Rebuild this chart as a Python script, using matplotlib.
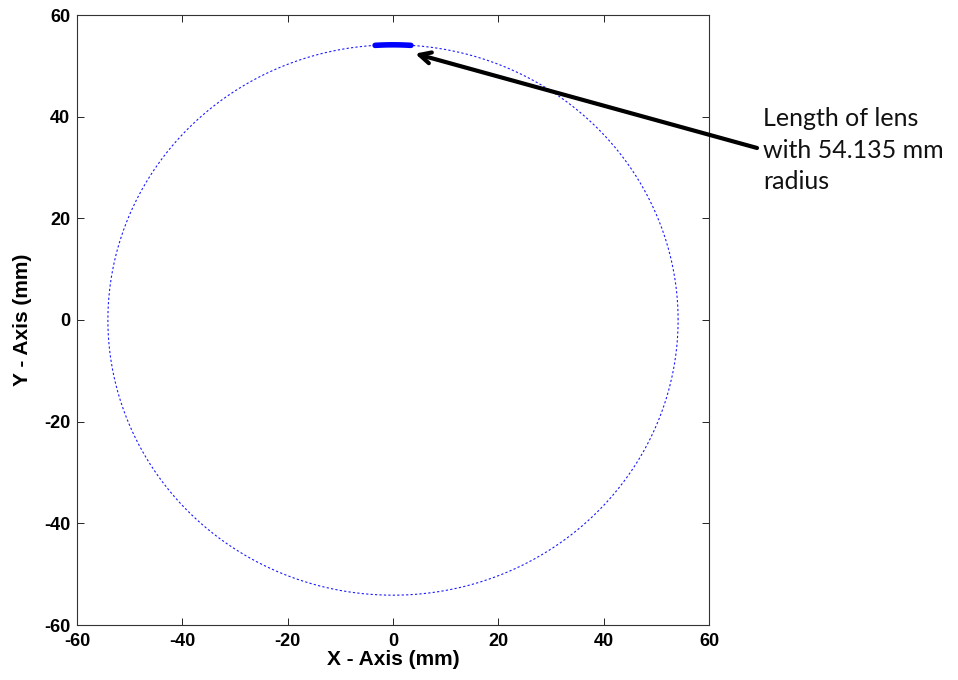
import numpy as np
import matplotlib.pyplot as plt

# circle / lens data
radius = 54.135
lens_x = [-3.4, 3.4]
ticks = [-60, -40, -20, 0, 20, 40, 60]
note = "Length of lens\nwith 54.135 mm\nradius"
arrow_tip = (4.2, 52.4)

theta = np.linspace(0, 2 * np.pi, 721)
circ_x = radius * np.cos(theta)
circ_y = radius * np.sin(theta)

lx = np.linspace(lens_x[0], lens_x[1], 50)
ly = np.sqrt(radius ** 2 - lx ** 2)

fig = plt.figure(figsize=(9.58, 6.8), dpi=100)
ax = fig.add_axes([77 / 958, 55 / 680, 632 / 958, 610 / 680])

ax.plot(circ_x, circ_y, color="#1a1aff", lw=0.8, linestyle=(0, (2, 2)))
ax.plot(lx, ly, color="#0000ff", lw=4, solid_capstyle="round")

ax.set_xlim(-60, 60)
ax.set_ylim(-60, 60)
ax.set_xticks(ticks)
ax.set_yticks(ticks)
tick_font = dict(family="Liberation Sans", size=13, weight="bold")
label_font = dict(family="Liberation Sans", size=15, weight="bold")
ax.set_xticklabels([str(t) for t in ticks], fontdict=tick_font)
ax.set_yticklabels([str(t) for t in ticks], fontdict=tick_font)
ax.tick_params(direction="in", length=5, width=0.6, top=True, right=True)
ax.tick_params(axis="x", pad=6)
ax.tick_params(axis="y", pad=5)
for s in ax.spines.values():
    s.set_linewidth(0.8)
    s.set_color("#333333")

ax.set_xlabel("X - Axis (mm)", fontdict=label_font)
ax.set_ylabel("Y - Axis (mm)", fontdict=label_font)
ax.xaxis.set_label_coords(0.5, -0.041)
ax.yaxis.set_label_coords(-0.071, 0.5)

ax.annotate("", xy=arrow_tip, xycoords="data",
            xytext=(1.076, 0.782), textcoords="axes fraction",
            arrowprops=dict(arrowstyle="->,head_length=0.8,head_width=0.4",
                            lw=3, color="black", shrinkA=0, shrinkB=0),
            annotation_clip=False)
fig.text(763 / 958, 1 - 107 / 680, note, family="Lato", size=18,
         va="top", ha="left", linespacing=1.45, color="#111111")

fig.savefig("out.png", dpi=100)
